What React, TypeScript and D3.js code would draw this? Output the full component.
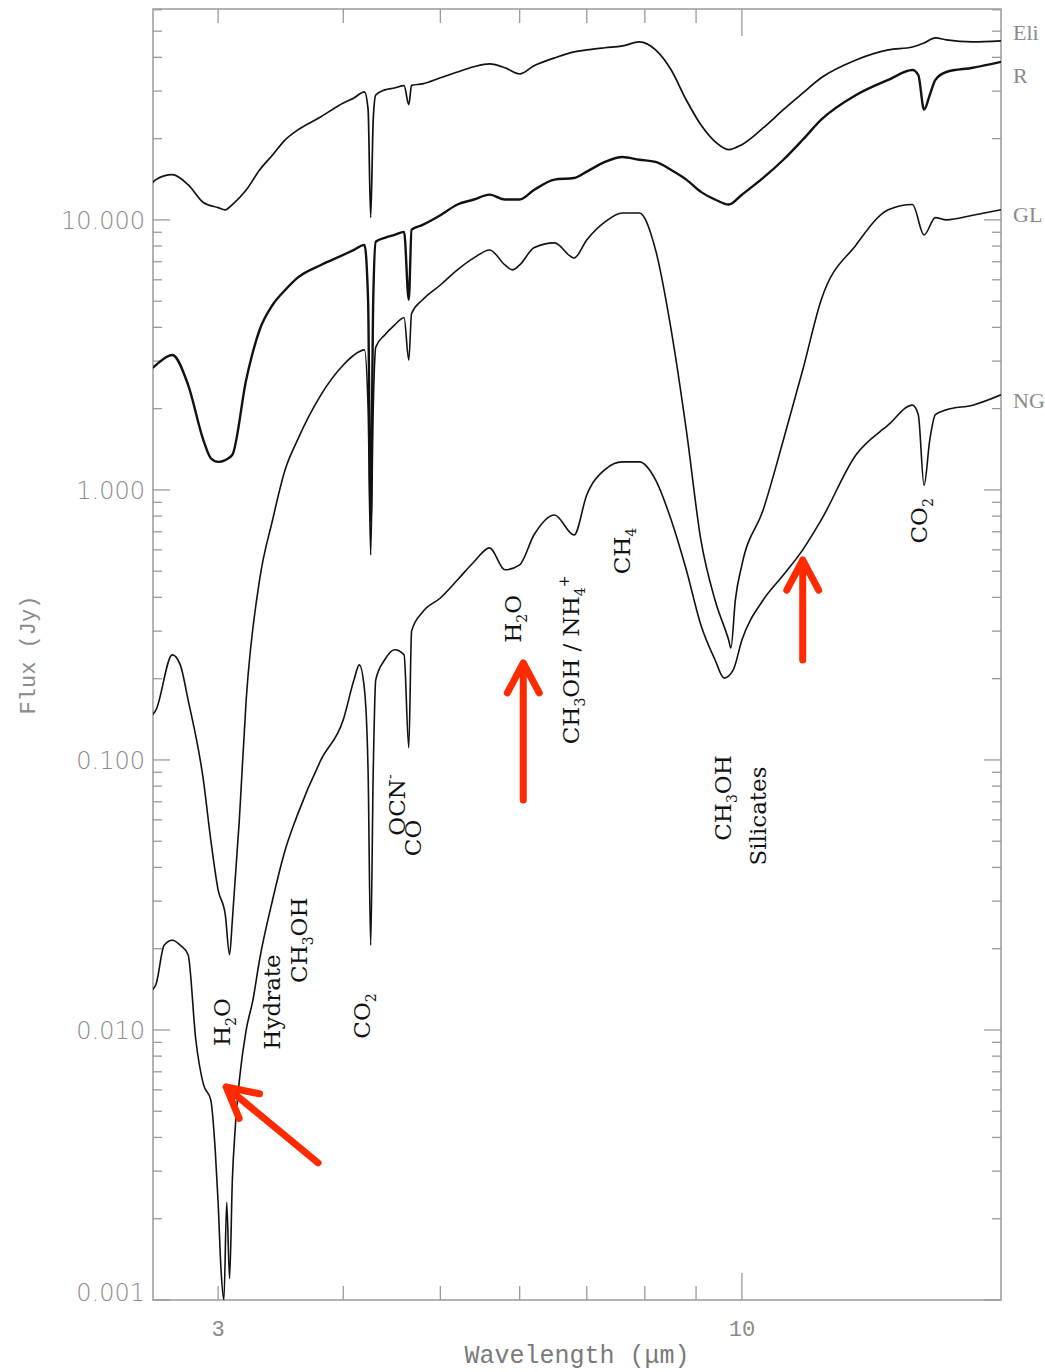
import { useEffect, useRef } from "react";
import * as d3 from "d3";

// spectra: wavelength (micron) and flux (Jy)
const wlEli = [2.58, 2.6, 2.7, 2.8, 2.9, 3.0, 3.05, 3.1, 3.2, 3.3, 3.4, 3.5, 3.6, 3.8, 4.0, 4.1, 4.2, 4.235, 4.26, 4.285, 4.31, 4.4, 4.5, 4.6, 4.65, 4.68, 4.8, 5.0, 5.2, 5.4, 5.6, 5.8, 6.0, 6.2, 6.5, 6.8, 7.0, 7.3, 7.6, 7.9, 8.2, 8.5, 8.8, 9.1, 9.4, 9.7, 10.0, 10.5, 11, 11.5, 12, 13, 14, 14.8, 15.2, 15.6, 16, 17, 18.14];
const fluxEli = [13.7, 14.1, 14.7, 13.5, 11.6, 11.1, 10.9, 11.4, 12.9, 15.3, 17.4, 19.8, 21.5, 24.1, 27.1, 28.3, 29.8, 25.6, 10.2, 23.5, 29.0, 30.3, 30.8, 31.4, 26.7, 31.5, 31.9, 33.6, 35.3, 36.9, 37.8, 36.6, 34.7, 37.2, 39.8, 41.9, 42.6, 43.4, 44.1, 45.6, 42.6, 35.9, 27.8, 22.5, 19.5, 18.2, 19.0, 21.9, 25.6, 29.5, 33.6, 39.1, 42.6, 43.7, 45.2, 47.2, 46.4, 45.6, 46.0];

const wlR = [2.58, 2.6, 2.7, 2.8, 2.9, 2.95, 3.0, 3.05, 3.1, 3.2, 3.3, 3.4, 3.5, 3.6, 3.8, 4.0, 4.1, 4.2, 4.235, 4.26, 4.285, 4.31, 4.4, 4.5, 4.6, 4.65, 4.68, 4.8, 5.0, 5.2, 5.4, 5.6, 5.8, 6.0, 6.2, 6.5, 6.8, 7.0, 7.3, 7.6, 7.9, 8.2, 8.5, 8.8, 9.1, 9.4, 9.7, 10.0, 10.5, 11, 11.5, 12, 13, 14, 14.8, 15.0, 15.2, 15.4, 15.6, 16, 17, 18.14];
const fluxR = [2.83, 2.9, 3.16, 2.45, 1.53, 1.31, 1.27, 1.29, 1.35, 2.56, 3.91, 4.84, 5.5, 6.1, 6.81, 7.42, 7.74, 8.08, 5.0, 0.77, 5.0, 8.3, 8.58, 8.8, 9.03, 5.06, 9.2, 9.58, 10.4, 11.4, 11.9, 12.4, 11.9, 11.9, 12.9, 14.1, 14.3, 15.1, 16.4, 17.1, 16.7, 16.4, 15.3, 14.1, 12.7, 11.9, 11.4, 12.4, 14.3, 16.7, 19.8, 23.5, 29.0, 33.0, 35.9, 34.4, 25.6, 29.0, 33.0, 35.3, 36.6, 38.5];

const wlGL = [2.58, 2.6, 2.7, 2.75, 2.8, 2.9, 2.95, 3.0, 3.05, 3.08, 3.1, 3.15, 3.2, 3.3, 3.4, 3.5, 3.6, 3.8, 4.0, 4.1, 4.2, 4.235, 4.26, 4.285, 4.31, 4.4, 4.5, 4.6, 4.65, 4.68, 4.8, 5.0, 5.2, 5.4, 5.6, 5.8, 5.9, 6.0, 6.2, 6.5, 6.8, 7.0, 7.3, 7.6, 7.9, 8.2, 8.5, 8.8, 9.1, 9.4, 9.7, 9.75, 9.85, 10.0, 10.5, 11, 11.5, 12, 13, 14, 14.8, 15.2, 15.6, 16, 17, 18.14];
const fluxGL = [0.147, 0.153, 0.245, 0.225, 0.167, 0.0843, 0.0505, 0.033, 0.0267, 0.019, 0.0256, 0.06, 0.167, 0.464, 0.774, 1.19, 1.53, 2.25, 2.9, 3.16, 3.3, 2.0, 0.574, 2.0, 3.38, 3.75, 4.08, 4.34, 3.03, 4.5, 5.06, 5.74, 6.53, 7.23, 7.74, 6.81, 6.53, 6.81, 7.88, 8.22, 7.23, 8.43, 9.83, 10.6, 10.6, 7.74, 3.91, 1.67, 0.653, 0.391, 0.278, 0.26, 0.391, 0.528, 0.843, 1.53, 2.78, 5.06, 8.08, 10.9, 11.4, 8.8, 10.2, 10.0, 10.4, 10.9];

const wlNG = [2.58, 2.6, 2.65, 2.7, 2.75, 2.8, 2.85, 2.9, 2.95, 2.98, 3.0, 3.02, 3.04, 3.06, 3.08, 3.1, 3.12, 3.15, 3.2, 3.25, 3.3, 3.4, 3.5, 3.6, 3.8, 4.0, 4.1, 4.15, 4.2, 4.235, 4.26, 4.285, 4.31, 4.4, 4.5, 4.6, 4.65, 4.68, 4.8, 5.0, 5.2, 5.4, 5.6, 5.8, 6.0, 6.2, 6.5, 6.8, 7.0, 7.3, 7.6, 7.9, 8.2, 8.5, 8.8, 9.1, 9.4, 9.6, 9.8, 10.0, 10.5, 11, 11.5, 12, 13, 14, 14.8, 15.0, 15.2, 15.4, 15.6, 16, 17, 18.14];
const fluxNG = [0.0141, 0.0147, 0.0206, 0.0215, 0.0206, 0.019, 0.0092, 0.0063, 0.0055, 0.0036, 0.0023, 0.0013, 0.001, 0.0023, 0.0012, 0.0028, 0.0043, 0.0065, 0.01, 0.0129, 0.0182, 0.0303, 0.0464, 0.0626, 0.1, 0.141, 0.198, 0.225, 0.182, 0.09, 0.0206, 0.09, 0.198, 0.235, 0.256, 0.245, 0.111, 0.3, 0.353, 0.398, 0.464, 0.541, 0.61, 0.506, 0.528, 0.681, 0.808, 0.681, 0.958, 1.19, 1.27, 1.27, 1.09, 0.774, 0.506, 0.316, 0.235, 0.201, 0.215, 0.278, 0.391, 0.484, 0.6, 0.774, 1.35, 1.74, 2.06, 1.9, 1.04, 1.53, 1.9, 1.98, 2.06, 2.25];

const seriesNames = ["Eli", "R", "GL", "NG"];
const seriesLabelFlux = [49.7, 34.4, 10.5, 2.15];

const yTickValues = [0.001, 0.01, 0.1, 1, 10];
const xTickValues = [3, 4, 5, 6, 7, 8, 9, 10];
const xTickLabels = [3, 10];

// feature labels: "_" = subscript char, "^" = superscript char
const featureText = ["H_2O", "Hydrate", "CH_3OH", "CO_2", "CO", "OCN^-", "H_2O", "CH_3OH / NH_4^+", "CH_4", "CH_3OH", "Silicates", "CO_2"];
const featureWl = [3.028, 3.396, 3.61, 4.18, 4.7, 4.53, 5.91, 6.75, 7.59, 9.575, 10.38, 15.02];
const featureFlux = [0.0107, 0.0127, 0.0215, 0.01127, 0.0514, 0.0681, 0.333, 0.2347, 0.594, 0.0723, 0.062, 0.768];

// red arrows: tail (wl, flux) -> tip (wl, flux)
const arrowTail = [[3.775, 0.00322], [6.05, 0.0711], [11.5, 0.2347]];
const arrowTip = [[3.056, 0.00615], [6.05, 0.2287], [11.5, 0.55]];

export default function App() {
  const svgRef = useRef<SVGSVGElement>(null);

  useEffect(() => {
    const svg = d3.select(svgRef.current);
    svg.selectAll("*").remove();

    const left = 153, right = 1001, top = 9, bottom = 1300;
    const x = d3.scaleLog().domain([2.583, 18.14]).range([left, right]);
    const y = d3.scaleLog().domain([0.001, 60.4]).range([bottom, top]);
    const axisColor = "#9a9a9a";
    const labelColor = "#8a8a8a";

    svg.append("defs").append("clipPath").attr("id", "plot")
      .append("rect").attr("x", left).attr("y", top).attr("width", right - left).attr("height", bottom - top);

    // frame
    svg.append("rect").attr("x", left).attr("y", top).attr("width", right - left).attr("height", bottom - top)
      .attr("fill", "none").attr("stroke", axisColor).attr("stroke-width", 1.5);

    // y ticks (log, minor at 2..9)
    const yMinor: number[] = [];
    yTickValues.forEach(d => { for (let k = 2; k <= 9; k++) if (d * k <= 60.4) yMinor.push(d * k); });
    const ticks = svg.append("g").attr("stroke", axisColor).attr("stroke-width", 1.3);
    yTickValues.forEach(v => {
      ticks.append("line").attr("x1", left).attr("x2", left + 17).attr("y1", y(v)).attr("y2", y(v));
      ticks.append("line").attr("x1", right).attr("x2", right - 17).attr("y1", y(v)).attr("y2", y(v));
    });
    yMinor.forEach(v => {
      ticks.append("line").attr("x1", left).attr("x2", left + 9).attr("y1", y(v)).attr("y2", y(v));
      ticks.append("line").attr("x1", right).attr("x2", right - 9).attr("y1", y(v)).attr("y2", y(v));
    });
    xTickValues.forEach(v => {
      const len = v === 10 ? 27 : 14;
      ticks.append("line").attr("x1", x(v)).attr("x2", x(v)).attr("y1", bottom).attr("y2", bottom - len);
      ticks.append("line").attr("x1", x(v)).attr("x2", x(v)).attr("y1", top).attr("y2", top + len);
    });

    svg.append("g").selectAll("text").data(yTickValues).enter().append("text")
      .attr("x", 145).attr("y", d => (d === 0.001 ? y(d) - 8 : y(d)))
      .attr("dy", "0.36em").attr("text-anchor", "end")
      .style("font-family", "'DejaVu Sans', sans-serif").style("font-weight", 300)
      .style("font-size", "24px").style("fill", labelColor)
      .text(d => d3.format(".3f")(d));

    svg.append("g").selectAll("text").data(xTickLabels).enter().append("text")
      .attr("x", d => x(d)).attr("y", 1336).attr("text-anchor", "middle")
      .style("font-family", "'Liberation Mono', monospace").style("font-size", "22px").style("fill", labelColor)
      .text(d => d);

    svg.append("text").attr("x", 577).attr("y", 1363).attr("text-anchor", "middle")
      .style("font-family", "'Liberation Mono', monospace").style("font-size", "25px").style("fill", "#7a7a7a")
      .text("Wavelength (\u03bcm)");

    svg.append("text").attr("transform", "translate(27,655) rotate(-90)").attr("dy", "0.36em")
      .attr("text-anchor", "middle")
      .style("font-family", "'Liberation Mono', monospace").style("font-size", "22px").style("fill", labelColor)
      .text("Flux (Jy)");

    // spectra
    const series = [[wlEli, fluxEli, 1.7], [wlR, fluxR, 2.4], [wlGL, fluxGL, 1.6], [wlNG, fluxNG, 1.6]] as [number[], number[], number][];
    const line = d3.line<[number, number]>().x(d => x(d[0])).y(d => y(d[1])).curve(d3.curveMonotoneX);
    const lines = svg.append("g").attr("clip-path", "url(#plot)");
    series.forEach(([wl, fl, w]) => {
      lines.append("path").attr("d", line(wl.map((v, i) => [v, fl[i]] as [number, number])))
        .attr("fill", "none").attr("stroke", "#111").attr("stroke-width", w).attr("stroke-linejoin", "round");
    });

    // source names at the right edge
    svg.append("g").selectAll("text").data(seriesNames).enter().append("text")
      .attr("x", right + 12).attr("y", (d, i) => y(seriesLabelFlux[i])).attr("dy", "0.35em")
      .style("font-family", "'Liberation Serif', serif").style("font-size", "22px").style("fill", labelColor)
      .text(d => d);

    // feature labels, rotated; the +8 centres the glyphs on the anchor
    featureText.forEach((t, i) => {
      const txt = svg.append("text")
        .attr("transform", `translate(${x(featureWl[i]) + 8},${y(featureFlux[i])}) rotate(-90)`)
        .attr("text-anchor", "middle")
        .style("font-family", "'DejaVu Serif', serif").style("font-size", "23px").style("fill", "#111");
      let shift = 0;
      for (let k = 0; k < t.length; k++) {
        const c = t[k];
        if ((c === "_" || c === "^") && k + 1 < t.length) {
          const target = c === "_" ? 6 : -10;
          txt.append("tspan").attr("dy", target - shift).style("font-size", "14px").text(t[k + 1]);
          shift = target;
          k++;
        } else {
          const sp = txt.append("tspan").text(c);
          if (shift !== 0) sp.attr("dy", -shift);
          shift = 0;
        }
      }
    });

    // red arrows
    const arrows = svg.append("g").attr("stroke", "#ff2a00").attr("stroke-width", 7)
      .attr("fill", "none").attr("stroke-linecap", "round").attr("stroke-linejoin", "round");
    arrowTail.forEach((tail, i) => {
      const x1 = x(tail[0]), y1 = y(tail[1]);
      const x2 = x(arrowTip[i][0]), y2 = y(arrowTip[i][1]);
      const ang = Math.atan2(y1 - y2, x1 - x2);
      const len = 34, spread = (28 * Math.PI) / 180;
      const w1 = [x2 + len * Math.cos(ang + spread), y2 + len * Math.sin(ang + spread)];
      const w2 = [x2 + len * Math.cos(ang - spread), y2 + len * Math.sin(ang - spread)];
      arrows.append("path").attr("d", `M${x1},${y1}L${x2},${y2}M${w1[0]},${w1[1]}L${x2},${y2}L${w2[0]},${w2[1]}`);
    });
  }, []);

  return (
    <svg ref={svgRef} width={1045} height={1372}
      style={{ position: "absolute", left: 0, top: 0, background: "#fff" }} />
  );
}
